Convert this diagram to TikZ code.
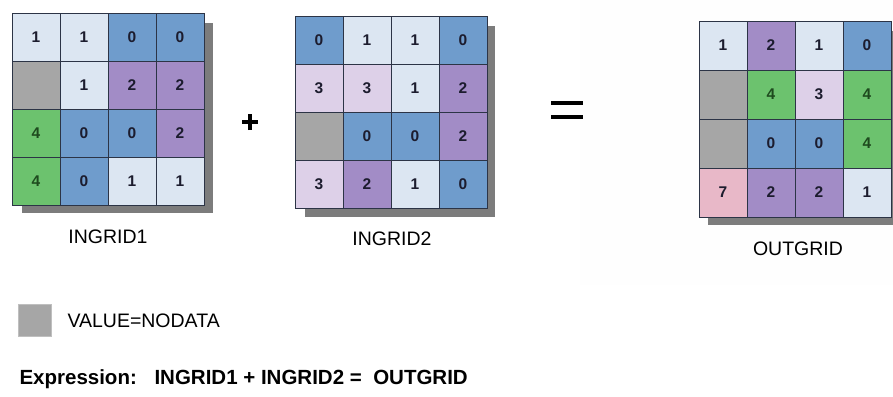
\documentclass[tikz,border=0pt]{standalone}
\usepackage{fontspec}
\setmainfont{Liberation Sans}
\definecolor{cellLight}{HTML}{DCE6F2}
\definecolor{cellBlue}{HTML}{6F9CCC}
\definecolor{cellPurple}{HTML}{A28CC6}
\definecolor{cellLavender}{HTML}{DDD0E8}
\definecolor{cellGreen}{HTML}{6CC26E}
\definecolor{cellGray}{HTML}{A6A6A6}
\definecolor{cellPink}{HTML}{E8B8C8}
\definecolor{shadowGray}{HTML}{7C7C7C}
\definecolor{gridLine}{HTML}{2C3446}
\definecolor{numDark}{HTML}{1C1C2E}
\definecolor{numGreen}{HTML}{1E4A1E}

% one 4x4 raster: name, left x, top y, cell height, list of style/value pairs
\newcommand\rastergrid[5]{%
  \foreach \sty/\val [count=\k from 0] in {#5} {%
    \pgfmathtruncatemacro\rr{div(\k,4)+1}%
    \pgfmathtruncatemacro\cc{mod(\k,4)+1}%
    \node[cell, minimum height=#4pt, \sty] (#1-\rr-\cc)
      at ({#2+24+48*(\cc-1)},{#3+#4/2+#4*(\rr-1)}) {\val};
  }%
}

\begin{document}
\begin{tikzpicture}[x=1pt,y=-1pt,
  cell/.style={draw=gridLine, line width=0.7pt, minimum width=48pt,
    inner sep=0pt, text=numDark, font=\bfseries\fontsize{15.5}{15.5}\selectfont},
  cL/.style={fill=cellLight},
  cB/.style={fill=cellBlue},
  cP/.style={fill=cellPurple},
  cV/.style={fill=cellLavender},
  cG/.style={fill=cellGreen, text=numGreen},
  cN/.style={fill=cellGray},
  cK/.style={fill=cellPink},
  shadow/.style={fill=shadowGray},
  caption/.style={anchor=base, font=\fontsize{19.5}{19.5}\selectfont},
  operator/.style={line width=4pt}]
\useasboundingbox (0,0) rectangle (893,396);
\clip (0,0) rectangle (893,396);
\fill[white] (0,0) rectangle (893,396);
\fill[black!0.5] (580,0) rectangle (893,285);

% drop shadows
\fill[shadow] (22,23) rectangle (213,213);
\fill[shadow] (305,26) rectangle (495,217);
\fill[shadow] (708,31) rectangle (900,225);

% input and output rasters
\rastergrid{a}{12}{13}{48}{cL/1,cL/1,cB/0,cB/0,
  cN/{},cL/1,cP/2,cP/2,
  cG/4,cB/0,cB/0,cP/2,
  cG/4,cB/0,cL/1,cL/1}
\rastergrid{b}{295}{16}{48}{cB/0,cL/1,cL/1,cB/0,
  cV/3,cV/3,cL/1,cP/2,
  cN/{},cB/0,cB/0,cP/2,
  cV/3,cP/2,cL/1,cB/0}
\rastergrid{c}{699}{21}{49}{cL/1,cP/2,cL/1,cB/0,
  cN/{},cG/4,cV/3,cG/4,
  cN/{},cB/0,cB/0,cG/4,
  cK/7,cP/2,cP/2,cL/1}

% captions
\node[caption] (capA) at (108,243) {INGRID1};
\node[caption] (capB) at (392,245) {INGRID2};
\node[caption] (capC) at (798,255) {OUTGRID};

% operators
\coordinate (plusC) at (250,122);
\draw[operator] ([xshift=-8pt]plusC) -- ([xshift=8pt]plusC);
\draw[operator] ([yshift=-8pt]plusC) -- ([yshift=8pt]plusC);
\coordinate (eqC) at (567,110);
\draw[operator] ([xshift=-16pt,yshift=-7pt]eqC) -- ([xshift=16pt,yshift=-7pt]eqC);
\draw[operator] ([xshift=-16pt,yshift=7pt]eqC) -- ([xshift=16pt,yshift=7pt]eqC);

% legend
\node[draw=black!25, fill=cellGray, minimum width=33pt, minimum height=32pt,
  inner sep=0pt] (key) at (34.5,320) {};
\node[anchor=base west, font=\fontsize{19.5}{19.5}\selectfont] (keyText)
  at (64,327) {VALUE=NODATA};

% expression line
\node[anchor=base west, font=\bfseries\fontsize{20.5}{20.5}\selectfont] (exprLabel)
  at (16,384) {Expression:};
\node[anchor=base west, font=\bfseries\fontsize{20.5}{20.5}\selectfont] (exprBody)
  at (151,384) {INGRID1 + INGRID2 =\ \ OUTGRID};
\end{tikzpicture}
\end{document}
